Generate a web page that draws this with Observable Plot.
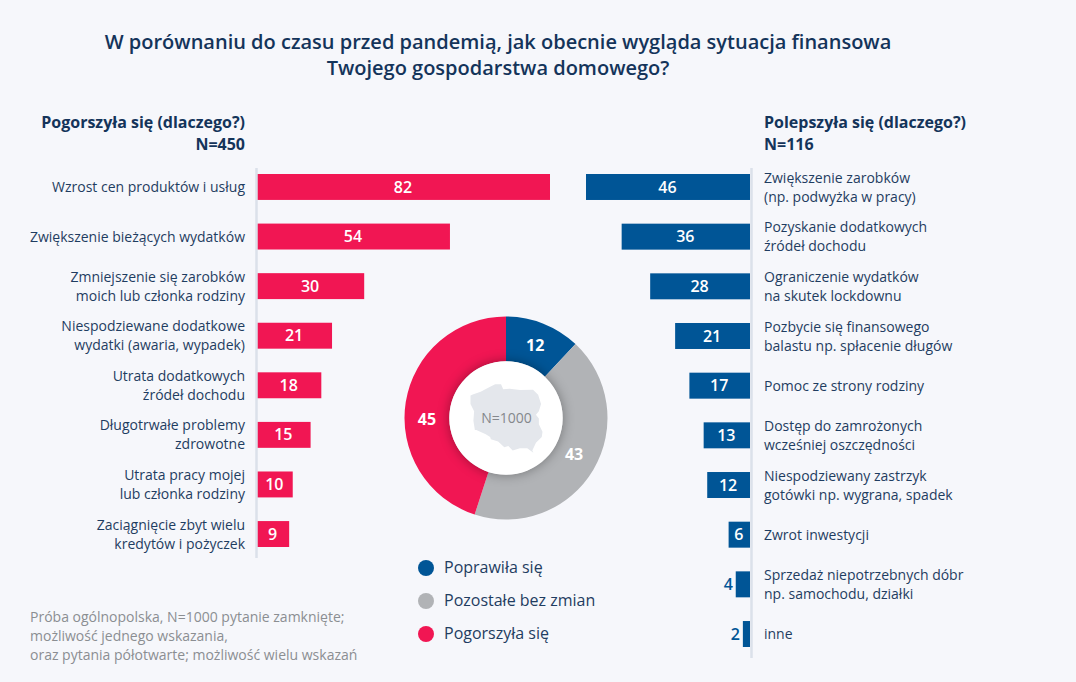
<!DOCTYPE html>
<html lang="pl">
<head>
<meta charset="utf-8">
<script src="https://cdn.jsdelivr.net/npm/d3@7"></script>
<script src="https://cdn.jsdelivr.net/npm/@observablehq/plot@0.6"></script>
<style>
  html, body { margin: 0; padding: 0; background: #f6f7fb; }
  #page { position: relative; width: 1076px; height: 682px; overflow: hidden; background: #f6f7fb;
          font-family: "Open Sans", sans-serif; color: #14345a; }
  #page svg { position: absolute; background: transparent; overflow: visible; }
  .abs { position: absolute; white-space: pre; }
  #title { left: 0; width: 996px; top: 29px; text-align: center; font-size: 20px; font-weight: 600; line-height: 26px; color: #14345a; }
  .head { top: 111px; font-size: 16px; font-weight: 700; line-height: 22px; color: #14345a; }
  #headL { right: 831px; text-align: right; }
  #headR { left: 764px; }
  .lg { left: 444px; font-size: 16px; line-height: 20px; color: #1f3d61; }
  .sw { position: absolute; left: 418px; width: 16px; height: 16px; border-radius: 50%; }
  #note { left: 30px; top: 607px; font-size: 14px; line-height: 19px; color: #8b8e92; }
</style>
</head>
<body>
<div id="page">
  <div id="title" class="abs">W porównaniu do czasu przed pandemią, jak obecnie wygląda sytuacja finansowa
Twojego gospodarstwa domowego?</div>
  <div id="headL" class="abs head">Pogorszyła się (dlaczego?)
N=450</div>
  <div id="headR" class="abs head">Polepszyła się (dlaczego?)
N=116</div>
  <div id="note" class="abs">Próba ogólnopolska, N=1000 pytanie zamknięte;
możliwość jednego wskazania,
oraz pytania półotwarte; możliwość wielu wskazań</div>
</div>
<script>
const worseLabels = [
  "Wzrost cen produktów i usług",
  "Zwiększenie bieżących wydatków",
  "Zmniejszenie się zarobków\nmoich lub członka rodziny",
  "Niespodziewane dodatkowe\nwydatki (awaria, wypadek)",
  "Utrata dodatkowych\nźródeł dochodu",
  "Długotrwałe problemy\nzdrowotne",
  "Utrata pracy mojej\nlub członka rodziny",
  "Zaciągnięcie zbyt wielu\nkredytów i pożyczek"
];
const worseValues = [82, 54, 30, 21, 18, 15, 10, 9];

const betterLabels = [
  "Zwiększenie zarobków\n(np. podwyżka w pracy)",
  "Pozyskanie dodatkowych\nźródeł dochodu",
  "Ograniczenie wydatków\nna skutek lockdownu",
  "Pozbycie się finansowego\nbalastu np. spłacenie długów",
  "Pomoc ze strony rodziny",
  "Dostęp do zamrożonych\nwcześniej oszczędności",
  "Niespodziewany zastrzyk\ngotówki np. wygrana, spadek",
  "Zwrot inwestycji",
  "Sprzedaż niepotrzebnych dóbr\nnp. samochodu, działki",
  "inne"
];
const betterValues = [46, 36, 28, 21, 17, 13, 12, 6, 4, 2];

const shareLabels = ["Poprawiła się", "Pozostałe bez zmian", "Pogorszyła się"];
const shareValues = [12, 43, 45];
const shareColors = ["#005596", "#b1b3b6", "#f11653"];
const sampleLabel = "N=1000";

// Approximate outline of Poland, lon / lat
const polandLon = [14.2,14.6,15.6,16.9,17.6,18.4,18.7,19.6,21.0,22.8,23.5,23.9,23.6,23.2,23.6,23.6,24.1,24.0,23.2,22.7,22.85,22.0,21.0,20.0,19.4,18.85,18.0,17.0,16.9,16.3,15.0,14.8,14.6,14.7,14.2,14.2];
const polandLat = [53.9,54.0,54.2,54.6,54.8,54.8,54.4,54.45,54.35,54.36,53.95,53.2,52.6,52.3,52.0,51.5,50.85,50.4,49.9,49.2,49.0,49.4,49.4,49.2,49.6,49.5,50.0,50.2,50.4,50.65,51.0,51.0,51.8,52.6,53.2,53.9];
const poland = {type: "Polygon", coordinates: [polandLon.map((lon, i) => [lon, polandLat[i]])]};

const page = document.getElementById("page");
const rows = (labels, values) => labels.map((label, i) => ({label, value: values[i]}));
const font = '"Open Sans", sans-serif';
const ruleColor = "#dbe1ea";
const inkColor = "#1f3d61";

function barPlot({data, labels, xRange, yRange, marginTop, marginBottom, color, anchor, ruleDx, tickPadding}) {
  const max = d3.max(data, d => d.value);
  const inside = data.filter(d => d.value >= 6);
  const outside = data.filter(d => d.value < 6);
  return Plot.plot({
    width: 1076, height: 682,
    marginTop, marginBottom, marginLeft: 0, marginRight: 0,
    style: {background: "transparent", fontFamily: font},
    x: {domain: [0, max], range: xRange, axis: null},
    y: {domain: labels, range: yRange, paddingInner: 0.477, paddingOuter: 0, round: false, axis: null},
    marks: [
      Plot.barX(data, {x: "value", y: "label", fill: color}),
      Plot.ruleX([0], {stroke: ruleColor, strokeWidth: 2.5, dx: ruleDx}),
      Plot.text(data, {x: 0, y: "label", text: "label", textAnchor: anchor === "left" ? "end" : "start", dx: anchor === "left" ? -tickPadding : tickPadding, dy: -1.5, fill: inkColor, fontSize: 14, lineHeight: 1.36}),
      Plot.text(inside, {x: d => d.value / 2, y: "label", text: d => String(d.value), fill: "#fff", fontSize: 16, fontWeight: 600, dx: -1}),
      Plot.text(outside, {x: "value", y: "label", text: d => String(d.value), fill: color, fontSize: 16, fontWeight: 600, dx: -8})
    ]
  });
}

const left = barPlot({
  data: rows(worseLabels, worseValues), labels: worseLabels,
  xRange: [257, 550], yRange: [174, 547],
  marginTop: 168, marginBottom: 124,
  color: shareColors[2], anchor: "left", ruleDx: -1, tickPadding: 12.5
});
const right = barPlot({
  data: rows(betterLabels, betterValues), labels: betterLabels,
  xRange: [750, 586], yRange: [174, 647],
  marginTop: 168, marginBottom: 24,
  color: shareColors[0], anchor: "right", ruleDx: 1, tickPadding: 13.5
});
page.append(left, right);

// Doughnut: slices from d3.pie / d3.arc inside a Plot render mark
const outerR = 101.5, innerR = 56.7;
function ring(index, scales, values, dim) {
  const cx = dim.width / 2, cy = dim.height / 2;
  const pie = d3.pie().sort(null)(shareValues);
  const arc = d3.arc().innerRadius(innerR).outerRadius(outerR);
  const g = d3.create("svg:g").attr("transform", `translate(${cx},${cy})`);
  g.selectAll("path").data(pie).join("path").attr("d", arc).attr("fill", (d, i) => shareColors[i]);
  g.append("circle").attr("r", innerR).attr("fill", "#fff")
    .style("filter", "drop-shadow(0 0 6px rgba(0,0,0,.35))");
  return g.node();
}
function ringLabels(index, scales, values, dim) {
  const cx = dim.width / 2, cy = dim.height / 2;
  const pie = d3.pie().sort(null)(shareValues);
  const arc = d3.arc().innerRadius(innerR).outerRadius(outerR);
  const g = d3.create("svg:g").attr("transform", `translate(${cx},${cy})`);
  g.selectAll("text").data(pie).join("text")
    .attr("transform", d => {
      // the largest slice carries its number on the horizontal of the ring
      const a = d.index === 2 ? {startAngle: 1.5 * Math.PI, endAngle: 1.5 * Math.PI} : d;
      const [x, y] = arc.centroid(a);
      return `translate(${x},${d.index === 1 ? y - 4 : y + 1})`;
    })
    .attr("text-anchor", "middle").attr("dy", "0.35em")
    .attr("fill", "#fff").attr("font-size", 16).attr("font-weight", 700)
    .attr("font-family", font)
    .text(d => d.value);
  return g.node();
}
const donut = Plot.plot({
  width: 208, height: 208,
  margin: 0,
  style: {background: "transparent", fontFamily: font},
  projection: {type: "mercator", domain: poland, inset: 68},
  marks: [
    ring,
    Plot.geo([poland], {fill: "#e4e7ec"}),
    Plot.text([sampleLabel], {frameAnchor: "middle", fill: "#85888c", fontSize: 14}),
    ringLabels
  ]
});
donut.style.left = "402px";
donut.style.top = "314px";
page.append(donut);

// Legend
shareLabels.forEach((label, i) => {
  const cy = [568, 600.5, 633.5][i];
  const sw = document.createElement("div");
  sw.className = "sw";
  sw.style.top = (cy - 8) + "px";
  sw.style.background = shareColors[i];
  const t = document.createElement("div");
  t.className = "abs lg";
  t.style.top = (cy - 11) + "px";
  t.textContent = label;
  page.append(sw, t);
});
</script>
</body>
</html>
